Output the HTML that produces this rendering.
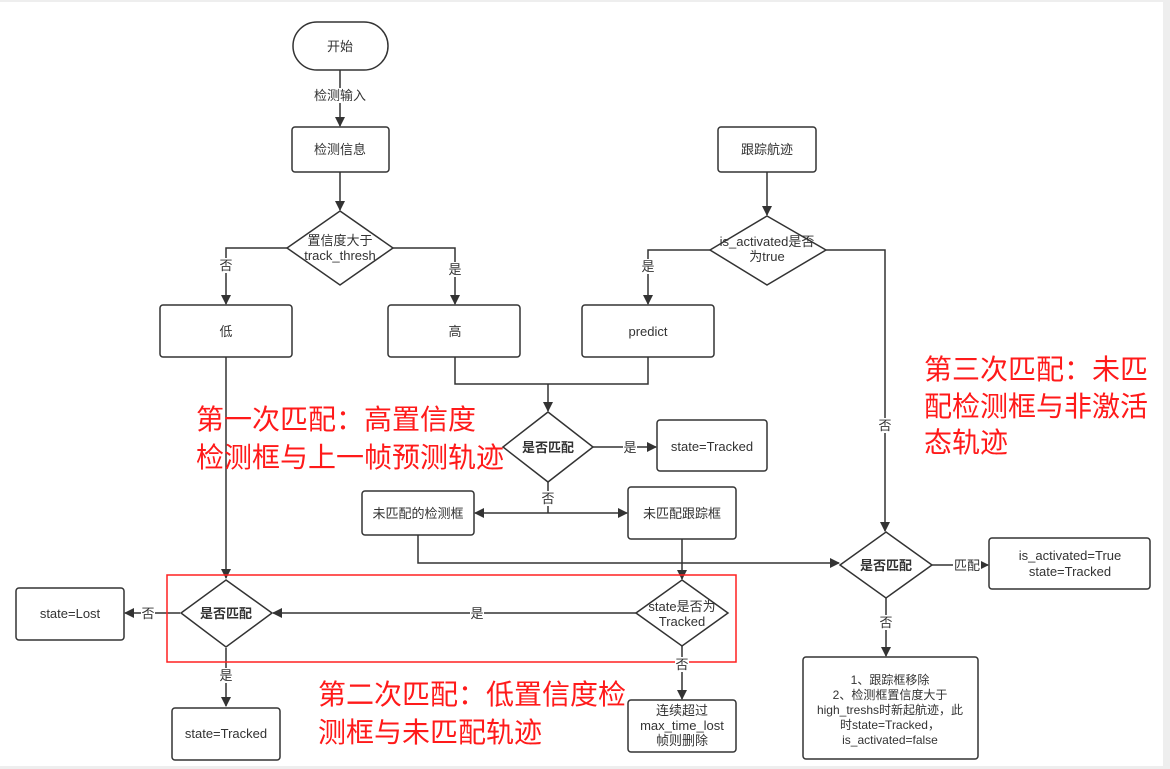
<!DOCTYPE html>
<html><head><meta charset="utf-8"><style>
html,body{margin:0;padding:0;background:#fff;}
svg{display:block;}
text{font-family:"Liberation Sans","Noto Sans CJK SC",sans-serif;fill:#333;}
.r{fill:#ff1a1a;font-size:28px;}
</style></head><body>
<svg width="1170" height="769" viewBox="0 0 1170 769" xmlns="http://www.w3.org/2000/svg">
<defs><marker id="a" markerWidth="10" markerHeight="10" refX="9" refY="5" orient="auto" markerUnits="userSpaceOnUse"><path d="M0,0 L10,5 L0,10 z" fill="#333"/></marker></defs>
<rect x="0" y="0" width="1170" height="2" fill="#eee"/>
<rect x="0" y="766" width="1170" height="3" fill="#eee"/>
<rect x="1163" y="0" width="7" height="769" fill="#eee"/>
<g stroke="#333" stroke-width="1.5" fill="none">
<line x1="340" y1="70" x2="340" y2="126" marker-end="url(#a)"/>
<line x1="340" y1="172" x2="340" y2="210" marker-end="url(#a)"/>
<polyline points="287,248 226,248 226,304" marker-end="url(#a)"/>
<polyline points="393,248 455,248 455,304" marker-end="url(#a)"/>
<line x1="767" y1="172" x2="767" y2="215" marker-end="url(#a)"/>
<polyline points="710,250 648,250 648,304" marker-end="url(#a)"/>
<polyline points="826,250 885,250 885,531" marker-end="url(#a)"/>
<polyline points="455,357 455,384 648,384 648,357"/>
<line x1="548" y1="384" x2="548" y2="411" marker-end="url(#a)"/>
<line x1="593" y1="447" x2="656" y2="447" marker-end="url(#a)"/>
<line x1="548" y1="482" x2="548" y2="513"/>
<line x1="548" y1="513" x2="475" y2="513" marker-end="url(#a)"/>
<line x1="548" y1="513" x2="627" y2="513" marker-end="url(#a)"/>
<polyline points="418,535 418,563 839,563" marker-end="url(#a)"/>
<line x1="682" y1="539" x2="682" y2="579" marker-end="url(#a)"/>
<line x1="636" y1="613" x2="273" y2="613" marker-end="url(#a)"/>
<line x1="226" y1="357" x2="226" y2="578" marker-end="url(#a)"/>
<line x1="180" y1="613" x2="125" y2="613" marker-end="url(#a)"/>
<line x1="226" y1="648" x2="226" y2="706" marker-end="url(#a)"/>
<line x1="682" y1="646" x2="682" y2="699" marker-end="url(#a)"/>
<line x1="932" y1="565" x2="988" y2="565" marker-end="url(#a)"/>
<line x1="886" y1="598" x2="886" y2="656" marker-end="url(#a)"/>
<g fill="#fff">
<rect x="293" y="22" width="95" height="48" rx="24"/>
<rect x="292" y="127" width="97" height="45" rx="3"/>
<polygon points="340,211 393,248 340,285 287,248"/>
<rect x="160" y="305" width="132" height="52" rx="3"/>
<rect x="388" y="305" width="132" height="52" rx="3"/>
<rect x="582" y="305" width="132" height="52" rx="3"/>
<rect x="718" y="127" width="98" height="45" rx="3"/>
<polygon points="767,216 826,250 767,285 710,250"/>
<polygon points="548,412 593,447 548,482 503,447"/>
<rect x="657" y="420" width="110" height="51" rx="3"/>
<rect x="362" y="491" width="112" height="44" rx="3"/>
<rect x="628" y="487" width="108" height="52" rx="3"/>
<polygon points="682,580 728,613 682,646 636,613"/>
<polygon points="226,580 272,613 226,647 181,613"/>
<rect x="16" y="588" width="108" height="52" rx="3"/>
<rect x="172" y="708" width="108" height="52" rx="3"/>
<rect x="628" y="700" width="108" height="52" rx="3"/>
<polygon points="886,532 932,565 886,598 840,565"/>
<rect x="989" y="538" width="161" height="51" rx="3"/>
<rect x="803" y="657" width="175" height="102" rx="3"/>
</g>
</g>
<rect x="167" y="575" width="569" height="87" fill="none" stroke="#ff2020" stroke-width="1.5"/>
<g font-size="13" text-anchor="middle">
<text x="340" y="51">开始</text>
<rect x="311" y="88" width="58" height="15" fill="#fff"/><text x="340" y="100">检测输入</text>
<text x="340" y="154">检测信息</text>
<text x="340" y="245">置信度大于</text><text x="340" y="260">track_thresh</text>
<rect x="219" y="258" width="14" height="15" fill="#fff"/><text x="226" y="270">否</text>
<rect x="448" y="262" width="14" height="15" fill="#fff"/><text x="455" y="274">是</text>
<text x="226" y="336">低</text>
<text x="455" y="336">高</text>
<text x="648" y="336">predict</text>
<text x="767" y="154">跟踪航迹</text>
<text x="767" y="246">is_activated是否</text><text x="767" y="261">为true</text>
<rect x="641" y="259" width="14" height="15" fill="#fff"/><text x="648" y="271">是</text>
<rect x="878" y="418" width="14" height="15" fill="#fff"/><text x="885" y="430">否</text>
<text x="548" y="452" font-weight="bold">是否匹配</text>
<rect x="623" y="440" width="14" height="15" fill="#fff"/><text x="630" y="452">是</text>
<text x="712" y="451">state=Tracked</text>
<rect x="541" y="491" width="14" height="15" fill="#fff"/><text x="548" y="503">否</text>
<text x="418" y="518">未匹配的检测框</text>
<text x="682" y="518">未匹配跟踪框</text>
<text x="682" y="611">state是否为</text><text x="682" y="626">Tracked</text>
<rect x="470" y="606" width="14" height="15" fill="#fff"/><text x="477" y="618">是</text>
<text x="226" y="618" font-weight="bold">是否匹配</text>
<rect x="141" y="606" width="14" height="15" fill="#fff"/><text x="148" y="618">否</text>
<text x="70" y="618">state=Lost</text>
<rect x="219" y="668" width="14" height="15" fill="#fff"/><text x="226" y="680">是</text>
<text x="226" y="738">state=Tracked</text>
<rect x="675" y="657" width="14" height="15" fill="#fff"/><text x="682" y="669">否</text>
<text x="682" y="715">连续超过</text><text x="682" y="730">max_time_lost</text><text x="682" y="745">帧则删除</text>
<text x="886" y="570" font-weight="bold">是否匹配</text>
<rect x="953" y="558" width="28" height="15" fill="#fff"/><text x="967" y="570">匹配</text>
<text x="1070" y="560">is_activated=True</text><text x="1070" y="576">state=Tracked</text>
<rect x="879" y="615" width="14" height="15" fill="#fff"/><text x="886" y="627">否</text>
<g font-size="12">
<text x="890" y="684">1、跟踪框移除</text>
<text x="890" y="699">2、检测框置信度大于</text>
<text x="890" y="714">high_treshs时新起航迹，此</text>
<text x="890" y="729">时state=Tracked，</text>
<text x="890" y="744">is_activated=false</text>
</g>
</g>
<g>
<text class="r" x="196" y="429">第一次匹配：高置信度</text>
<text class="r" x="196" y="467">检测框与上一帧预测轨迹</text>
<text class="r" x="318" y="704">第二次匹配：低置信度检</text>
<text class="r" x="318" y="742">测框与未匹配轨迹</text>
<text class="r" x="924" y="379">第三次匹配：未匹</text>
<text class="r" x="924" y="416">配检测框与非激活</text>
<text class="r" x="924" y="452">态轨迹</text>
</g>
</svg>
</body></html>
